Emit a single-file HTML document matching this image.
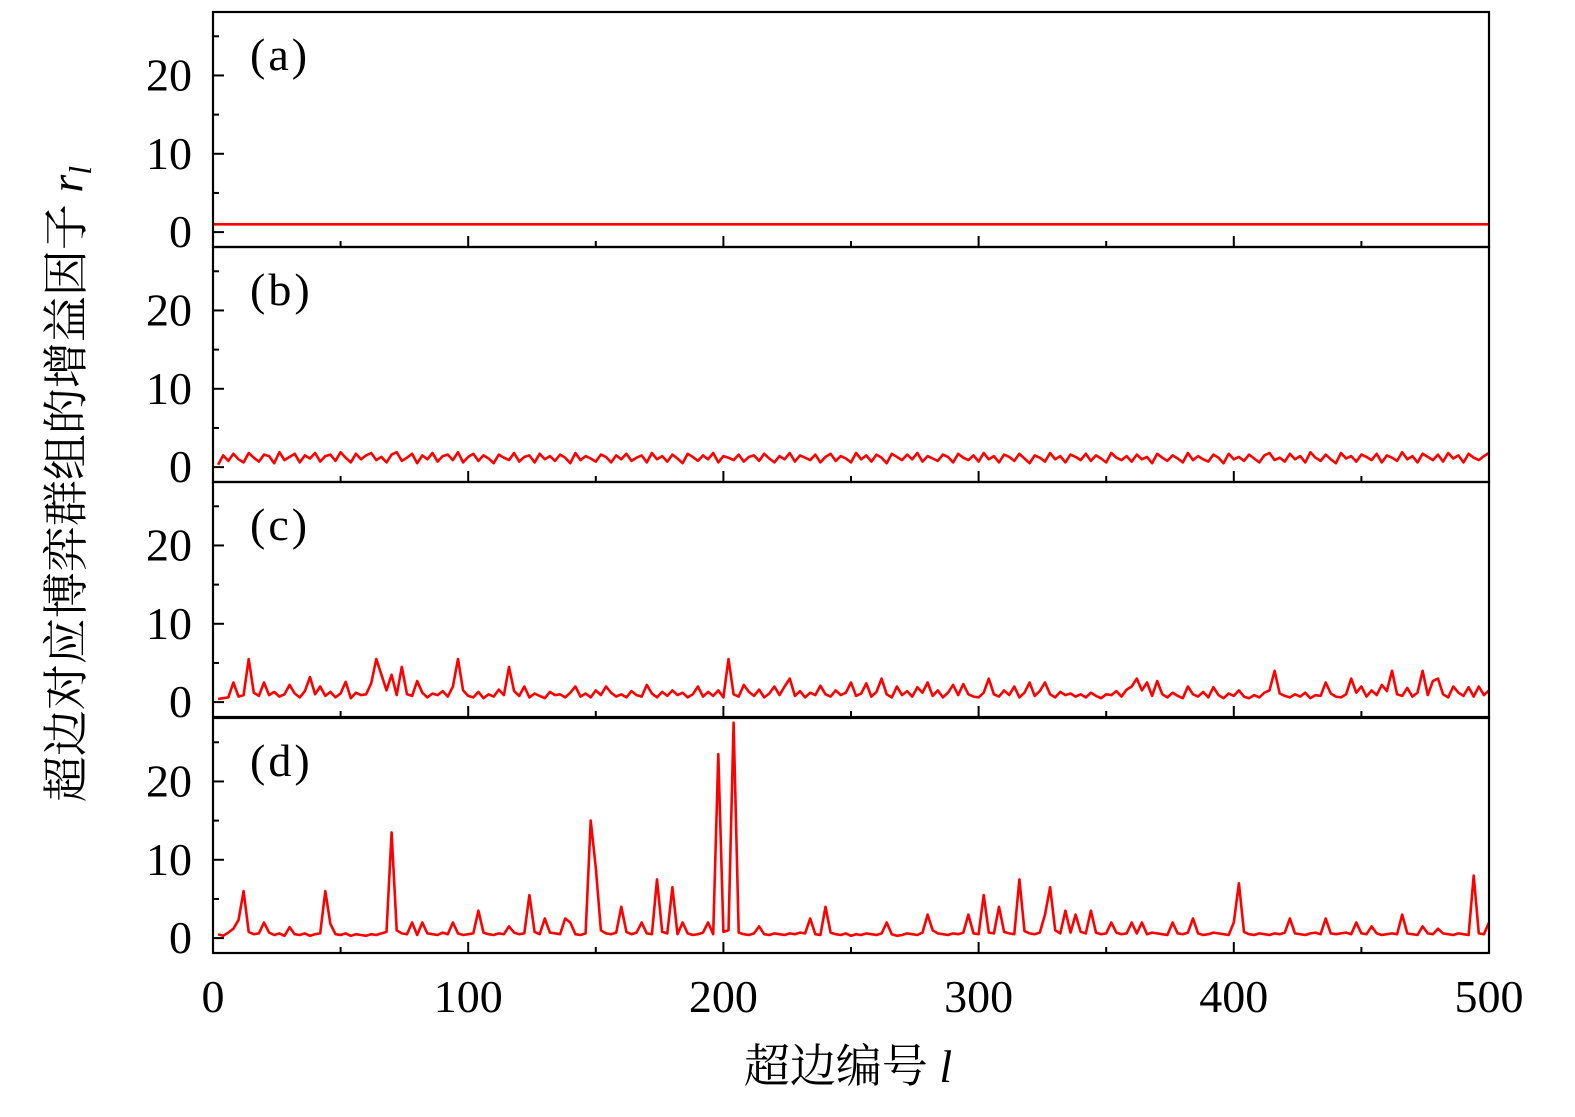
<!DOCTYPE html>
<html><head><meta charset="utf-8"><style>
html,body{margin:0;padding:0;background:#fff;}
svg text{font-family:"Liberation Serif","Noto Serif CJK SC",serif;fill:#000;}
</style></head><body>
<svg id="chart" width="1575" height="1112" viewBox="0 0 1575 1112" xmlns="http://www.w3.org/2000/svg">
<g id="g"></g>
<text transform="translate(82,484) rotate(-90)" text-anchor="middle" font-size="46" style="font-family:'Liberation Serif','Noto Serif CJK SC',serif">超边对应博弈群组的增益因子 <tspan font-style="italic">r</tspan><tspan font-style="italic" font-size="32" dy="9">l</tspan></text>
<text x="848" y="1082" text-anchor="middle" font-size="46">超边编号 <tspan font-style="italic">l</tspan></text>
</svg>
<script>
const panelLabels = ["(a)","(b)","(c)","(d)"];
const yTicks = [0,10,20];
const xTicks = [0,100,200,300,400,500];
const seriesA = [1,1];
const seriesAL = [0,500];
const seriesB = [
0.3,1.5,0.8,1.7,1.0,0.6,1.8,1.2,0.7,1.6,
1.4,0.5,1.9,0.9,1.3,1.7,0.6,1.5,1.1,1.8,
0.7,1.4,1.6,0.8,1.9,1.2,0.6,1.7,1.0,1.5,
1.8,0.9,1.3,0.6,1.6,1.9,0.8,1.2,1.7,0.5,
1.5,1.0,1.8,0.7,1.4,1.6,0.9,1.9,0.6,1.3,
1.7,0.8,1.5,1.1,0.5,1.6,1.2,0.9,1.8,0.7,
1.3,1.5,0.6,1.7,1.0,1.4,0.8,1.6,1.2,0.5,
1.8,0.9,1.4,1.1,0.7,1.6,1.3,0.6,1.5,1.0,
1.7,0.8,1.2,1.5,0.6,1.8,1.0,1.4,0.7,1.6,
1.1,0.5,1.7,1.3,0.8,1.5,1.0,1.8,0.6,1.4,
1.2,0.9,1.6,0.7,1.3,1.5,0.8,1.7,1.1,0.6,
1.4,1.0,1.8,0.7,1.5,1.2,0.9,1.6,0.6,1.3,
1.7,0.8,1.4,1.1,0.6,1.8,1.0,1.5,0.7,1.6,
1.2,0.5,1.7,1.3,0.9,1.6,1.0,1.8,0.7,1.4,
1.1,0.8,1.6,1.3,0.6,1.7,1.2,0.9,1.5,0.7,
1.8,1.0,1.4,0.6,1.6,1.3,0.8,1.7,1.1,0.5,
1.5,1.2,0.7,1.8,1.0,1.4,0.6,1.6,1.3,0.9,
1.7,0.8,1.5,1.1,0.6,1.8,1.2,0.9,1.4,0.7,
1.6,1.0,1.3,0.5,1.7,1.2,0.8,1.5,1.1,0.6,
1.8,0.9,1.4,1.0,0.7,1.6,1.2,0.5,1.7,1.0,
1.3,0.8,1.6,1.1,0.6,1.5,1.8,0.9,1.2,0.7,
1.7,1.0,1.4,0.6,1.9,1.2,0.8,1.6,1.0,0.5,
1.8,1.1,1.4,0.7,1.6,1.3,0.9,1.7,0.6,1.5,
1.2,0.8,1.9,1.0,1.4,0.6,1.7,1.3,0.9,1.6,
0.7,1.8,1.1,1.5,0.6,1.7,1.2,0.9,1.4,1.8];
const seriesC = [
0.4,0.5,0.6,2.5,0.7,0.9,5.5,1.2,0.8,2.5,
0.9,1.3,0.7,1.0,2.2,1.1,0.6,1.4,3.2,1.0,
2.0,0.8,1.3,0.6,1.1,2.6,0.5,1.2,0.9,1.0,
2.4,5.5,3.5,1.5,3.5,0.9,4.5,1.0,0.8,2.7,
1.2,0.6,1.1,0.9,1.4,0.7,2.0,5.5,1.5,0.8,
0.6,1.3,0.5,1.0,0.7,1.6,0.9,4.5,1.4,0.8,
2.0,0.6,1.1,0.8,0.5,1.3,0.9,1.0,0.6,1.2,
2.0,0.7,1.1,0.6,1.5,0.9,2.0,1.2,0.7,1.0,
0.6,1.4,0.9,0.7,2.2,1.1,0.6,1.3,0.8,1.5,
0.9,1.2,0.6,1.0,2.0,0.7,1.3,0.8,1.5,0.6,
5.5,1.0,0.7,2.2,1.3,0.8,1.6,0.6,1.1,2.0,
0.9,2.0,3.0,0.8,1.4,0.6,1.2,0.9,2.1,1.0,
0.7,1.5,0.9,1.2,2.5,0.8,1.1,2.4,0.7,1.3,
3.0,1.0,0.6,2.0,0.9,1.4,0.7,1.9,1.2,2.5,
0.8,1.5,0.6,1.2,2.2,0.9,2.3,1.0,0.7,0.6,
1.2,3.0,1.0,0.7,1.5,0.9,2.0,0.6,1.2,2.5,
0.8,1.4,2.5,1.0,0.6,1.3,0.9,1.1,0.7,1.0,
0.6,1.2,0.8,0.5,1.0,0.9,1.4,0.7,1.6,2.0,
3.0,1.5,2.5,0.8,2.7,1.0,0.6,1.2,0.8,0.5,
2.0,1.0,0.7,1.3,0.6,1.9,0.9,0.5,1.1,0.8,
1.5,0.7,0.5,0.9,0.6,1.2,1.5,4.0,1.1,0.8,
0.6,1.0,0.7,1.2,0.5,0.9,0.8,2.5,1.1,0.7,
0.6,1.0,3.0,1.2,2.0,0.7,1.5,0.9,2.2,1.4,
4.0,1.0,0.8,1.8,0.7,1.2,4.0,0.9,2.7,3.0,
1.0,0.6,2.0,1.2,0.8,1.9,0.7,2.0,0.9,1.5];
const seriesD = [
0.5,0.3,0.7,1.2,2.3,6.0,0.8,0.5,0.6,2.0,
0.7,0.4,0.6,0.3,1.4,0.5,0.4,0.6,0.3,0.5,
0.6,6.0,1.8,0.5,0.4,0.6,0.3,0.5,0.4,0.3,
0.5,0.4,0.6,0.8,13.5,1.0,0.6,0.5,2.0,0.4,
2.0,0.6,0.5,0.4,0.7,0.5,2.0,0.6,0.4,0.5,
0.6,3.5,0.7,0.5,0.4,0.6,0.5,1.5,0.7,0.5,
0.6,5.5,0.8,0.5,2.5,0.7,0.6,0.5,2.5,2.0,
0.5,0.4,0.6,15.0,9.0,1.0,0.6,0.5,0.7,4.0,
0.8,0.5,0.7,2.0,0.6,0.5,7.5,0.8,0.6,6.5,
0.5,2.0,0.6,0.4,0.5,0.7,2.0,0.5,23.5,0.8,
1.0,27.5,0.7,0.5,0.4,0.6,1.5,0.5,0.4,0.6,
0.5,0.4,0.6,0.5,0.7,0.6,2.5,0.5,0.4,4.0,
0.7,0.5,0.4,0.6,0.3,0.5,0.4,0.6,0.5,0.4,
0.6,2.0,0.5,0.3,0.4,0.6,0.5,0.4,0.7,3.0,
1.0,0.6,0.5,0.4,0.6,0.5,0.7,3.0,0.6,0.5,
5.5,0.7,0.6,4.0,0.8,0.6,0.5,7.5,0.9,0.6,
0.5,0.7,3.0,6.5,1.0,0.6,3.5,0.7,3.0,0.8,
0.6,3.5,0.7,0.5,0.6,2.0,0.7,0.5,0.6,2.0,
0.6,2.0,0.5,0.7,0.6,0.5,0.4,2.0,0.6,0.5,
0.7,2.5,0.6,0.4,0.5,0.7,0.6,0.5,0.4,2.0,
7.0,0.8,0.5,0.4,0.6,0.5,0.4,0.6,0.5,0.7,
2.5,0.6,0.5,0.4,0.6,0.7,0.5,2.5,0.6,0.5,
0.6,0.7,0.5,2.0,0.6,0.5,1.5,0.6,0.4,0.5,
0.6,0.5,3.0,0.6,0.5,0.4,1.5,0.6,0.5,1.2,
0.6,0.5,0.4,0.6,0.5,0.4,8.0,0.6,0.5,2.0];

const NS="http://www.w3.org/2000/svg";
const g=document.getElementById('g');
const X0=213,X1=1489,panelTop=[12,247,482,718],PH=235,Y_MIN=-1.9,Y_MAX=28.1;
function xs(v){return X0+(v-0)/(500-0)*(X1-X0);}
function ys(p,v){return panelTop[p]+PH-(v-Y_MIN)/(Y_MAX-Y_MIN)*PH;}
function mk(tag,attrs){const e=document.createElementNS(NS,tag);for(const k in attrs)e.setAttribute(k,attrs[k]);g.appendChild(e);return e;}
const allSeries=[[seriesA,seriesAL],[seriesB,null],[seriesC,null],[seriesD,null]];
for(let p=0;p<4;p++){
  const top=panelTop[p],bot=top+PH;
  const [vals,ls]=allSeries[p];
  let d='';
  vals.forEach((v,i)=>{const l=ls?ls[i]:2*i+2;d+=(i?'L':'M')+xs(l).toFixed(1)+' '+ys(p,v).toFixed(1);});
  const path=mk('path',{d:d,fill:'none',stroke:'#ff0000','stroke-width':2.6,'stroke-linejoin':'round'});
  
  
  for(let v=0;v<=25;v+=5){
    const y=ys(p,v),len=(v%10===0)?11:6;
    const t=mk('line',{x1:X0,x2:X0+len,y1:y,y2:y,stroke:'#000','stroke-width':2});
    
    
  }
  yTicks.forEach(v=>{
    const t=mk('text',{x:192,y:ys(p,v)+15,'text-anchor':'end','font-size':46});
    t.textContent=v;
    
    
  });
  for(let v=50;v<500;v+=50){
    const len=(v%100===0)?11:6;
    const t=mk('line',{x1:xs(v),x2:xs(v),y1:bot,y2:bot-len,stroke:'#000','stroke-width':2});
    
    
  }
  const fr=mk('rect',{x:X0,y:top,width:X1-X0,height:PH,fill:'none',stroke:'#000','stroke-width':2.2});
  
  
  const lb=mk('text',{x:250,y:top+58,'font-size':46,'letter-spacing':3});
  lb.textContent=panelLabels[p];
  
  
}
xTicks.forEach(v=>{
  const t=mk('text',{x:xs(v),y:1012,'text-anchor':'middle','font-size':46});
  t.textContent=v;
  
  
});
</script>
</body></html>
